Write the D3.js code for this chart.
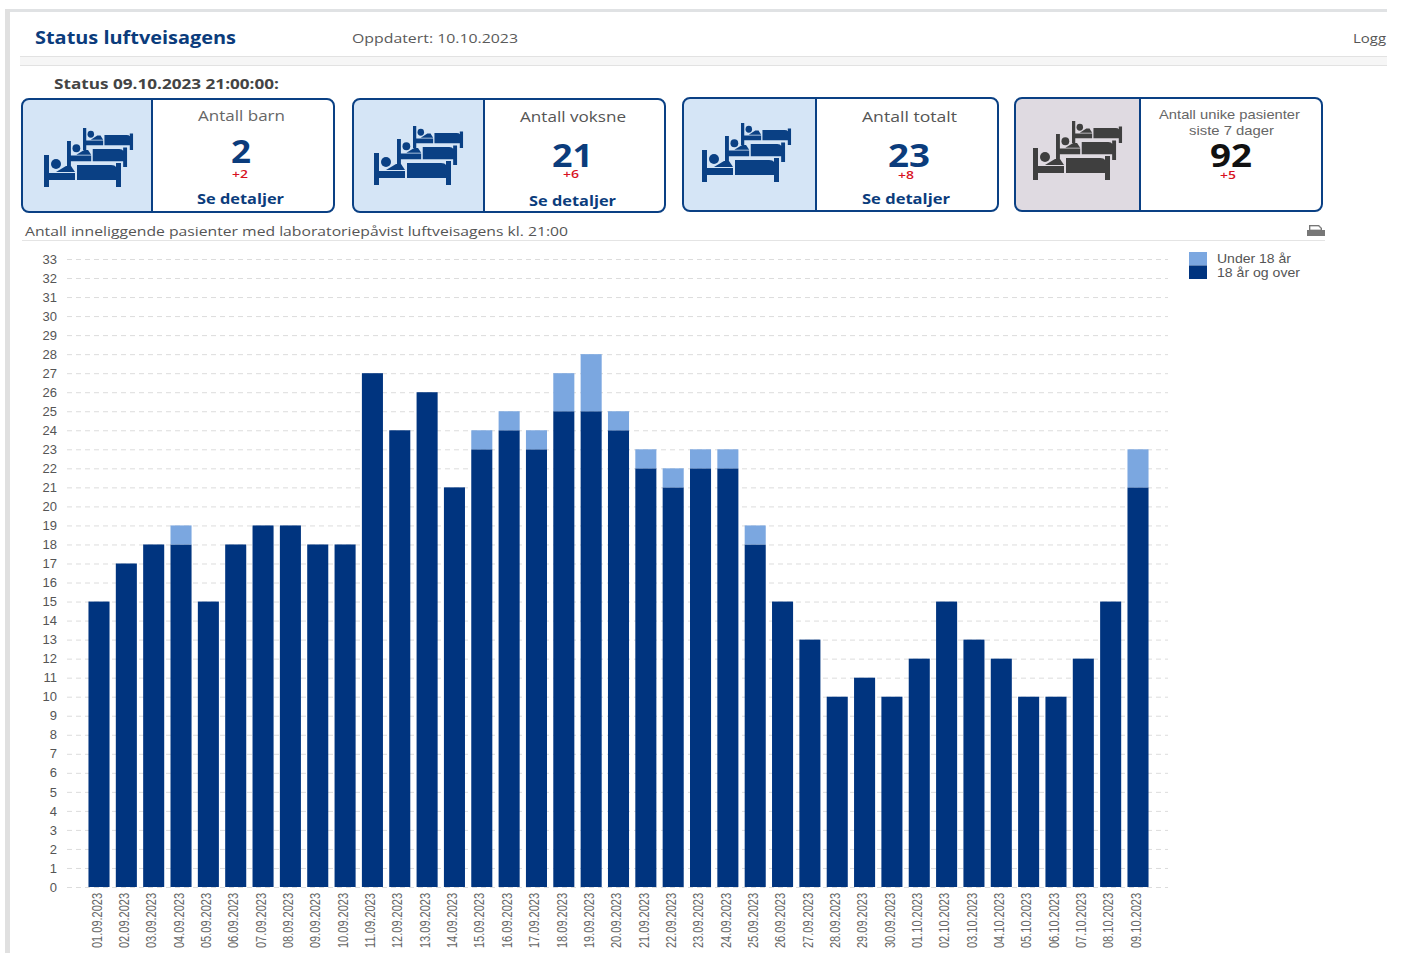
<!DOCTYPE html>
<html><head><meta charset="utf-8">
<script src="https://cdn.jsdelivr.net/npm/d3@7"></script>
<style>html,body{margin:0;padding:0;background:#fff;overflow:hidden}svg{display:block}</style>
</head><body><svg id="c" width="1402" height="953"></svg>
<script>
const dates=["01.09.2023","02.09.2023","03.09.2023","04.09.2023","05.09.2023","06.09.2023","07.09.2023","08.09.2023","09.09.2023","10.09.2023","11.09.2023","12.09.2023","13.09.2023","14.09.2023","15.09.2023","16.09.2023","17.09.2023","18.09.2023","19.09.2023","20.09.2023","21.09.2023","22.09.2023","23.09.2023","24.09.2023","25.09.2023","26.09.2023","27.09.2023","28.09.2023","29.09.2023","30.09.2023","01.10.2023","02.10.2023","03.10.2023","04.10.2023","05.10.2023","06.10.2023","07.10.2023","08.10.2023","09.10.2023"];
const adults=[15,17,18,18,15,18,19,19,18,18,27,24,26,21,23,24,23,25,25,24,22,21,22,22,18,15,13,10,11,10,12,15,13,12,10,10,12,15,21];
const children=[0,0,0,1,0,0,0,0,0,0,0,0,0,0,1,1,1,2,3,1,1,1,1,1,1,0,0,0,0,0,0,0,0,0,0,0,0,0,2];
const seriesNames=["18 år og over","Under 18 år"];
const seriesColors=["#00347f","#7ba7e0"];
const yTicks=d3.range(0,34);

const OS="'Open Sans',sans-serif", LS="'Liberation Sans',Arial,sans-serif";
const svg=d3.select("#c");
function txt(s,x0,x1,base,size,o={}){
  return svg.append("text").attr("x",x0).attr("y",base).attr("textLength",x1-x0).attr("lengthAdjust","spacingAndGlyphs")
    .attr("font-family",o.font||OS).attr("font-size",size).attr("font-weight",o.weight||400).attr("fill",o.fill||"#555").text(s);
}
// page frame
svg.append("rect").attr("x",5).attr("y",9).attr("width",1382).attr("height",3).attr("fill","#e0e2e4");
svg.append("rect").attr("x",5).attr("y",9).attr("width",5).attr("height",944).attr("fill","#e0e0e0");
svg.append("rect").attr("x",20).attr("y",57).attr("width",1367).attr("height",8).attr("fill","#f6f6f6");
svg.append("line").attr("x1",20).attr("x2",1387).attr("y1",56.5).attr("y2",56.5).attr("stroke","#e2e2e2");
svg.append("line").attr("x1",20).attr("x2",1387).attr("y1",65.5).attr("y2",65.5).attr("stroke","#e2e2e2");

txt("Status luftveisagens",35,236,44,18,{weight:700,fill:"#0b3c7c"});
txt("Oppdatert: 10.10.2023",352,518,43,13.5,{fill:"#5a5a5a"});
txt("Logg",1353,1386,43,13.5,{fill:"#555"});
txt("Status 09.10.2023 21:00:00:",54,279,89,14,{weight:700,fill:"#444"});

// bed icon
const defs=svg.append("defs");
const bed=defs.append("g").attr("id","bed");
bed.append("path").attr("d","M0 0H5V18H31V25H5V32H0Z");
bed.append("circle").attr("cx",12).attr("cy",9).attr("r",5);
bed.append("path").attr("d","M12 17L22 11H27L31 17Z");
bed.append("path").attr("d","M33 10H67Q71 10 72 12V8H77V32H72V25H33Z");
const beds=defs.append("g").attr("id","beds");
[[39,0,.65,.69],[23,13,.78,.81],[0,27,1,1]].forEach(([x,y,sx,sy])=>beds.append("use").attr("href","#bed").attr("transform",`translate(${x},${y}) scale(${sx},${sy})`));

const cards=[
 {x:22,y:99,w:312,h:113,d:130,fill:"#d5e5f6",ic:"#0a4084",ix:44,iy:128},
 {x:353,y:99,w:312,h:113,d:131,fill:"#d5e5f6",ic:"#0a4084",ix:374,iy:126},
 {x:683,y:98,w:315,h:113,d:133,fill:"#d5e5f6",ic:"#0a4084",ix:702,iy:123},
 {x:1015,y:98,w:307,h:113,d:125,fill:"#dfdae1",ic:"#3f3f3f",ix:1033,iy:121}
];
cards.forEach(c=>{
  svg.append("rect").attr("x",c.x).attr("y",c.y).attr("width",c.w).attr("height",c.h).attr("rx",7).attr("fill","#fff");
  const clip="cl"+c.x;
  defs.append("clipPath").attr("id",clip).append("rect").attr("x",c.x).attr("y",c.y).attr("width",c.w).attr("height",c.h).attr("rx",7);
  svg.append("rect").attr("x",c.x).attr("y",c.y).attr("width",c.d).attr("height",c.h).attr("fill",c.fill).attr("clip-path",`url(#${clip})`);
  svg.append("rect").attr("x",c.x).attr("y",c.y).attr("width",c.w).attr("height",c.h).attr("rx",7).attr("fill","none").attr("stroke","#0a4084").attr("stroke-width",2);
  svg.append("line").attr("x1",c.x+c.d).attr("x2",c.x+c.d).attr("y1",c.y).attr("y2",c.y+c.h).attr("stroke","#0a4084").attr("stroke-width",2);
  svg.append("use").attr("href","#beds").attr("transform",`translate(${c.ix},${c.iy})`).attr("fill",c.ic);
});
const NAVY="#0b3c7c", RED="#d8121f";
txt("Antall barn",198,285,121,14.5,{fill:"#666"});
txt("2",231,251,163,33,{weight:700,fill:NAVY});
txt("+2",232,248,178,11,{weight:600,fill:RED});
txt("Se detaljer",197,284,204,14,{weight:700,fill:NAVY});
txt("Antall voksne",520,626,122,14.5,{fill:"#555"});
txt("21",552,593,167,33,{weight:700,fill:NAVY});
txt("+6",563,579,178,11,{weight:600,fill:RED});
txt("Se detaljer",529,616,206,14,{weight:700,fill:NAVY});
txt("Antall totalt",862,957,122,14.5,{fill:"#555"});
txt("23",888,930,167,33,{weight:700,fill:NAVY});
txt("+8",898,914,179,11,{weight:600,fill:RED});
txt("Se detaljer",862,950,204,14,{weight:700,fill:NAVY});
txt("Antall unike pasienter",1159,1300,119,13,{font:LS,fill:"#666"});
txt("siste 7 dager",1189,1274,135,13,{font:LS,fill:"#666"});
txt("92",1210,1252,167,33,{weight:700,fill:"#111"});
txt("+5",1220,1236,179,11,{weight:600,fill:RED});

txt("Antall inneliggende pasienter med laboratoriepåvist luftveisagens kl. 21:00",25,568,236,13.5,{fill:"#555"});
svg.append("line").attr("x1",22).attr("x2",1325).attr("y1",240.5).attr("y2",240.5).attr("stroke","#e4e4e4");
// print icon
svg.append("path").attr("d","M1307 236V230H1309V225H1319L1322 228V230H1325V236Z").attr("fill","#777");
svg.append("path").attr("d","M1310 226H1318.5L1321 228.5V230H1310Z").attr("fill","#fff").attr("stroke","#777").attr("stroke-width",.7);

// chart
const y=d3.scaleLinear().domain([0,33]).range([887,259]);
const x=d3.scaleBand().domain(dates).range([85.33,1151.67]).paddingInner(.23).paddingOuter(.115);
const yAxis=d3.axisLeft(y).tickValues(yTicks).tickFormat(d3.format("d")).tickSize(0).tickPadding(10);
const gy=svg.append("g").attr("transform","translate(67,0)").call(yAxis);
gy.select(".domain").remove();
gy.selectAll("text").attr("font-family",LS).attr("font-size",13).attr("fill","#555");
gy.selectAll(".tick line").attr("x1",0).attr("x2",1101).attr("stroke","#dcdcdc").attr("stroke-dasharray","5,4");

const rows=dates.map((d,i)=>({date:d,a:adults[i],c:children[i]}));
const stacked=d3.stack().keys(["a","c"])(rows);
svg.append("g").selectAll("g").data(stacked).join("g").attr("fill",(d,i)=>seriesColors[i])
  .selectAll("rect").data(d=>d.filter(p=>p[1]>p[0])).join("rect")
  .attr("x",d=>x(d.data.date)).attr("width",x.bandwidth())
  .attr("y",d=>y(d[1])).attr("height",d=>y(d[0])-y(d[1]));

const xAxis=d3.axisBottom(x).tickSize(0).tickPadding(0);
const gx=svg.append("g").attr("transform","translate(0,887)").call(xAxis);
gx.select(".domain").remove();
gx.selectAll(".tick text").attr("font-family",LS).attr("font-size",14).attr("fill","#666")
  .attr("text-anchor","end").attr("dy",null).attr("y",0).attr("x",0)
  .attr("textLength",55).attr("lengthAdjust","spacingAndGlyphs")
  .attr("transform","translate(2.7,6) rotate(-90)");

// legend
const legendWidths=[83,74];
[1,0].forEach((s,i)=>{
  svg.append("rect").attr("x",1189).attr("y",252+i*13.5).attr("width",18).attr("height",13.5).attr("fill",seriesColors[s]);
  svg.append("text").attr("x",1217).attr("y",263+i*14).attr("font-family",LS).attr("font-size",13).attr("fill","#555")
    .attr("textLength",legendWidths[s]).attr("lengthAdjust","spacingAndGlyphs").text(seriesNames[s]);
});
</script></body></html>
